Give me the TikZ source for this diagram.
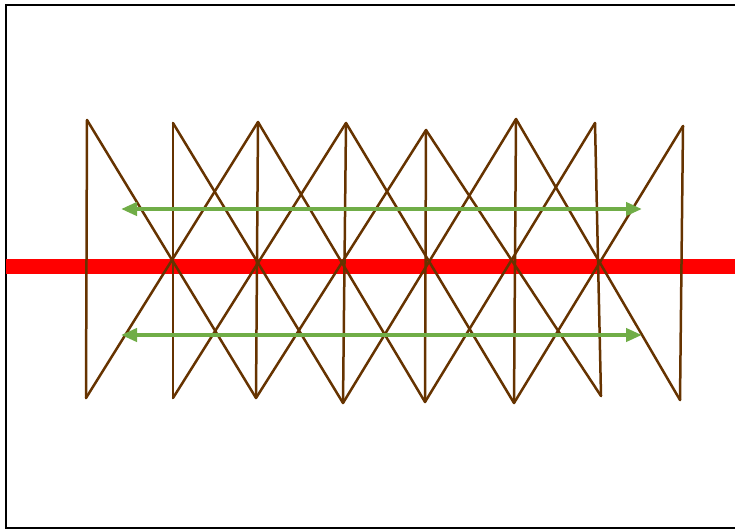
\documentclass[tikz,border=0pt]{standalone}
\usetikzlibrary{arrows.meta}
\definecolor{beamred}{RGB}{255,0,0}
\definecolor{strutbrown}{RGB}{102,51,0}
\definecolor{arrowgreen}{RGB}{112,173,71}
\tikzset{
    strut/.style={strutbrown,line width=2.5pt,line cap=round,line join=round},
    flow/.style={arrowgreen,line width=4pt,{Triangle[length=16pt,width=13pt]}-{Triangle[length=16pt,width=13pt]}},
}
\begin{document}
\begin{tikzpicture}[x=1pt,y=-1pt]

    \useasboundingbox (0,0) rectangle (735,529);

    % FRAME
    \draw[line width=2pt] (6,5) rectangle (745,528);

    % RED BEAM
    \coordinate (r1) at (6,266.5);
    \coordinate (r2) at (745,266.5);
    \draw[beamred,line width=15pt] (r1) to (r2);

    % TOP POINTS
    \coordinate (t0) at (87,120);
    \coordinate (t1) at (173,123);
    \coordinate (t2) at (258,122);
    \coordinate (t3) at (346,123);
    \coordinate (t4) at (426,130);
    \coordinate (t5) at (516,119);
    \coordinate (t6) at (595,123);
    \coordinate (t7) at (683,126);

    % BOTTOM POINTS
    \coordinate (b0) at (86,398);
    \coordinate (b1) at (173,398);
    \coordinate (b2) at (256,398);
    \coordinate (b3) at (343,403);
    \coordinate (b4) at (425,402);
    \coordinate (b5) at (514,403);
    \coordinate (b6) at (601,396);
    \coordinate (b7) at (680,400);

    % VERTICALS
    \draw[strut] (t0) to (b0);
    \draw[strut] (t1) to (b1);
    \draw[strut] (t2) to (b2);
    \draw[strut] (t3) to (b3);
    \draw[strut] (t4) to (b4);
    \draw[strut] (t5) to (b5);
    \draw[strut] (t6) to (b6);
    \draw[strut] (t7) to (b7);

    % DIAGONALS, DOWN
    \draw[strut] (t0) to (b2);
    \draw[strut] (t1) to (b3);
    \draw[strut] (t2) to (b4);
    \draw[strut] (t3) to (b5);
    \draw[strut] (t4) to (b6);
    \draw[strut] (t5) to (b7);

    % DIAGONALS, UP
    \draw[strut] (b0) to (t2);
    \draw[strut] (b1) to (t3);
    \draw[strut] (b2) to (t4);
    \draw[strut] (b3) to (t5);
    \draw[strut] (b4) to (t6);
    \draw[strut] (b5) to (t7);

    % GREEN ARROWS
    \coordinate (a1) at (121,209);
    \coordinate (a2) at (642,209);
    \coordinate (a3) at (121,335);
    \coordinate (a4) at (642,335);
    \draw[flow] (a1) to (a2);
    \draw[flow] (a3) to (a4);

\end{tikzpicture}
\end{document}
